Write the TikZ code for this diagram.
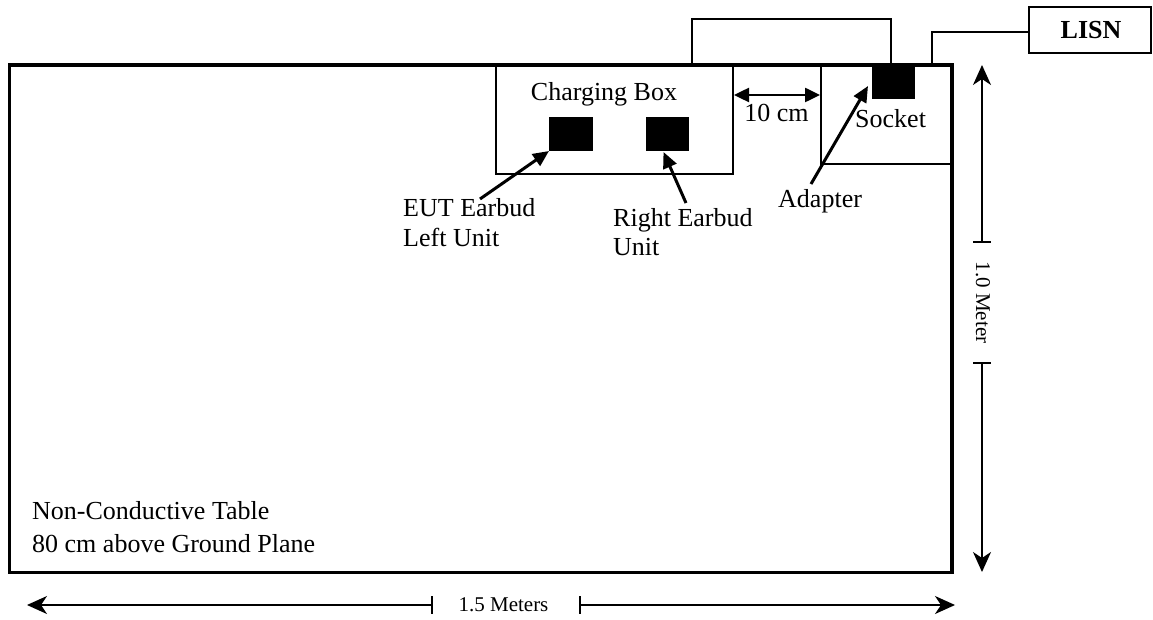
\documentclass[tikz,border=0pt]{standalone}
\usepackage{fontspec}
\setmainfont{Liberation Serif}
\usetikzlibrary{arrows.meta,calc}
\begin{document}
\begin{tikzpicture}[x=1pt,y=-1pt,
  box/.style={draw, inner sep=0pt, outer sep=0pt, anchor=north west},
  blk/.style={fill=black, draw=none, inner sep=0pt, outer sep=0pt, anchor=north west},
  lbl/.style={inner sep=0pt, font=\fontsize{26}{31}\selectfont},
  small/.style={inner sep=0pt, font=\fontsize{21}{25}\selectfont},
  ptr/.style={line width=3pt, -{Triangle[length=16pt,width=14pt]}},
  dim/.style={line width=1.5pt},
  dimtip/.style={line width=1.5pt, -{Stealth[length=20pt,width=18pt,inset=6pt]}},
  wire/.style={line width=2pt}]
\useasboundingbox (0,0) rectangle (1153,620);
% table
\node[box, line width=3.5pt, minimum width=942.5pt, minimum height=507.5pt] (table) at (9.5,65) {};
% charging box and socket box
\node[box, line width=2pt, minimum width=237pt, minimum height=109pt] (chg) at (496,65) {};
\node[box, line width=2pt, minimum width=131pt, minimum height=99pt] (sock) at (821,65) {};
% earbuds and adapter
\node[blk, minimum width=44pt, minimum height=34pt] (left) at (549,117) {};
\node[blk, minimum width=43pt, minimum height=34pt] (right) at (646,117) {};
\node[blk, minimum width=43pt, minimum height=34pt] (adapter) at (872,65) {};
% LISN
\node[box, line width=2pt, minimum width=122pt, minimum height=46pt] (lisn) at (1029,7) {};
\node[lbl, anchor=base, font=\fontsize{26}{31}\selectfont\bfseries] (lisnt) at (1091,39) {LISN};
% wires
\coordinate (c1) at (692,65);
\coordinate (c2) at (932,65);
\draw[wire] (c1) |- ($(adapter.north)+(-2.5,-46)$) -- ($(adapter.north)+(-2.5,0)$);
\draw[wire] (c2) |- (lisn.west |- 0,32);
% texts
\node[lbl, anchor=base] (chgt) at (604,101) {Charging Box};
\node[lbl, anchor=base] (tencm) at (776.5,122) {10 cm};
\node[lbl, anchor=base west] (sockt) at (855,128) {Socket};
\node[lbl, anchor=base west] (adt) at (778,208) {Adapter};
\node[lbl, anchor=base west] (eut1) at (403,217) {EUT Earbud};
\node[lbl, anchor=base west] (eut2) at (403,247) {Left Unit};
\node[lbl, anchor=base west] (rt1) at (613,227) {Right Earbud};
\node[lbl, anchor=base west] (rt2) at (613,255) {Unit};
\node[lbl, anchor=base west] (nc1) at (32,519) {Non-Conductive Table};
\node[lbl, anchor=base west] (nc2) at (32,552) {80 cm above Ground Plane};
% pointer arrows
\coordinate (p1) at (480,199);
\coordinate (p2) at (686,203);
\coordinate (p3) at (811,184);
\draw[ptr] (p1) -- (left.south west);
\draw[ptr] (p2) -- ($(right.south)+(-4,1)$);
\draw[ptr] (p3) -- ($(adapter.west)+(-4,4)$);
% 10 cm arrow
\draw[line width=2.5pt, {Triangle[length=15pt,width=14pt]}-{Triangle[length=15pt,width=14pt]}]
  ($(chg.north east)+(1,30)$) -- ($(sock.north west)+(-1,30)$);
% horizontal dimension
\node[small] (hdim) at (503.5,605) {1.5 Meters};
\coordinate (hl) at (27,605);
\coordinate (hr) at (955,605);
\coordinate (ht1) at (432,605);
\coordinate (ht2) at (580,605);
\draw[dimtip] (ht1) -- (hl);
\draw[dimtip] (ht2) -- (hr);
\draw[dim] ($(ht1)+(0,-9)$) -- ($(ht1)+(0,9)$);
\draw[dim] ($(ht2)+(0,-9)$) -- ($(ht2)+(0,9)$);
% vertical dimension
\node[small, rotate=-90] (vdim) at (983,302.5) {1.0 Meter};
\coordinate (vt) at (982,65);
\coordinate (vb) at (982,572);
\coordinate (vt1) at (982,242);
\coordinate (vt2) at (982,363);
\draw[dimtip] (vt1) -- (vt);
\draw[dimtip] (vt2) -- (vb);
\draw[dim] ($(vt1)+(-9,0)$) -- ($(vt1)+(9,0)$);
\draw[dim] ($(vt2)+(-9,0)$) -- ($(vt2)+(9,0)$);
\end{tikzpicture}
\end{document}
